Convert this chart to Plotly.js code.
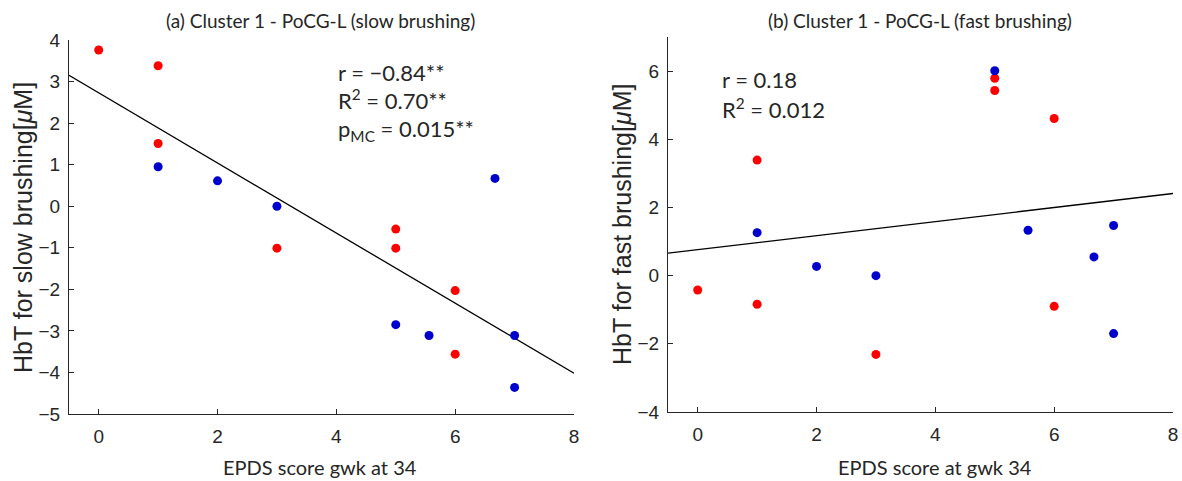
<!DOCTYPE html>
<html>
<head>
<meta charset="utf-8">
<script src="https://cdn.plot.ly/plotly-3.0.1.min.js"></script>
<style>html,body{margin:0;padding:0;background:#fff;}#chart{width:1182px;height:481px;}</style>
</head>
<body>
<div id="chart"></div>
<script>
// ---- Panel (a): slow brushing ----
const slowRedX = [0, 1, 1, 3, 5, 5, 6, 6];
const slowRedY = [3.76, 3.38, 1.51, -1.01, -0.55, -1.01, -2.03, -3.56];
const slowBlueX = [1, 2, 3, 6.67, 5, 5.56, 7, 7];
const slowBlueY = [0.95, 0.61, 0.0, 0.67, -2.85, -3.11, -3.11, -4.36];
const slowFitX = [-0.5, 8];
const slowFitY = [3.15, -4.02];

// ---- Panel (b): fast brushing ----
const fastRedX = [0, 1, 1, 3, 5, 5, 6, 6];
const fastRedY = [-0.42, 3.39, -0.84, -2.31, 5.79, 5.43, 4.61, -0.9];
const fastBlueX = [1, 2, 3, 5, 5.56, 6.67, 7, 7];
const fastBlueY = [1.26, 0.27, 0.0, 6.01, 1.33, 0.55, 1.47, -1.70];
const fastFitX = [-0.5, 8];
const fastFitY = [0.66, 2.41];

const xTicks = [0, 2, 4, 6, 8];
const slowYTicks = [-5, -4, -3, -2, -1, 0, 1, 2, 3, 4];
const fastYTicks = [-4, -2, 0, 2, 4, 6];

const titles = ["(a) Cluster 1 - PoCG-L (slow brushing)", "(b) Cluster 1 - PoCG-L (fast brushing)"];
const xTitles = ["EPDS score gwk at 34", "EPDS score at gwk 34"];
const yTitles = ["HbT for slow brushing[<i>μ</i>M]", "HbT for fast brushing[<i>μ</i>M]"];
const statsA = ["r = −0.84**", "R<sup>2</sup> = 0.70**", "p<sub>MC</sub> = 0.015**"];
const statsB = ["r = 0.18", "R<sup>2</sup> = 0.012"];

const RED = "#ff0000", BLUE = "#0000cd";
const mk = c => ({color: c, size: 9});

const traces = [
  {x: slowFitX, y: slowFitY, mode: "lines", line: {color: "#000", width: 1.3}, xaxis: "x", yaxis: "y"},
  {x: slowRedX, y: slowRedY, mode: "markers", marker: mk(RED), xaxis: "x", yaxis: "y"},
  {x: slowBlueX, y: slowBlueY, mode: "markers", marker: mk(BLUE), xaxis: "x", yaxis: "y"},
  {x: fastFitX, y: fastFitY, mode: "lines", line: {color: "#000", width: 1.3}, xaxis: "x2", yaxis: "y2"},
  {x: fastRedX, y: fastRedY, mode: "markers", marker: mk(RED), xaxis: "x2", yaxis: "y2"},
  {x: fastBlueX, y: fastBlueY, mode: "markers", marker: mk(BLUE), xaxis: "x2", yaxis: "y2"}
];

const W = 1182, H = 481;
const px = v => v / W, py = v => 1 - v / H;
const tickFont = {family: "Liberation Sans, Arial, sans-serif", size: 19, color: "#262626"};
const axBase = {
  showgrid: false, zeroline: false, showline: true, linecolor: "#262626", linewidth: 1,
  ticks: "inside", ticklen: 5, tickwidth: 1, tickcolor: "#262626", tickfont: tickFont,
  mirror: false, fixedrange: true
};

const TF = "Lato, Noto Sans, sans-serif";
const ann = [];
function txt(text, x, y, size, opts) {
  ann.push(Object.assign({text: text, x: px(x), y: py(y), xref: "paper", yref: "paper",
    xanchor: "center", yanchor: "middle",
    showarrow: false, font: {family: TF, size: size, color: "#262626"}}, opts || {}));
}
txt(titles[0], 320, 20, 19);
txt(titles[1], 920, 20, 19);
txt(xTitles[0], 320, 467, 20);
txt(xTitles[1], 935, 467, 20);
const yFont = {family: "Liberation Sans, Arial, sans-serif", size: 25, color: "#262626"};
txt(yTitles[0], 23, 228, 25, {textangle: -90, font: yFont});
txt(yTitles[1], 622, 224, 25, {textangle: -90, font: yFont});
const statYA = [72, 99, 130];
statsA.forEach((s, i) => txt(s, 336, statYA[i], 22, {xanchor: "left"}));
const statYB = [79, 109];
statsB.forEach((s, i) => txt(s, 720, statYB[i], 22, {xanchor: "left"}));

const layout = {
  width: W, height: H, margin: {l: 0, r: 0, t: 0, b: 0},
  paper_bgcolor: "#fff", plot_bgcolor: "#fff", showlegend: false,
  xaxis: Object.assign({}, axBase, {domain: [px(69), px(574)], range: [-0.5, 8], tickvals: xTicks, anchor: "y", ticklabelstandoff: 5}),
  yaxis: Object.assign({}, axBase, {domain: [py(414), py(40)], range: [-5, 4], tickvals: slowYTicks, anchor: "x", ticklabelstandoff: 4}),
  xaxis2: Object.assign({}, axBase, {domain: [px(668), px(1173)], range: [-0.5, 8], tickvals: xTicks, anchor: "y2", ticklabelstandoff: 5}),
  yaxis2: Object.assign({}, axBase, {domain: [py(412), py(37)], range: [-4, 7], tickvals: fastYTicks, anchor: "x2", ticklabelstandoff: 4}),
  annotations: ann
};

Plotly.newPlot("chart", traces, layout, {displayModeBar: false, staticPlot: true});
</script>
</body>
</html>
